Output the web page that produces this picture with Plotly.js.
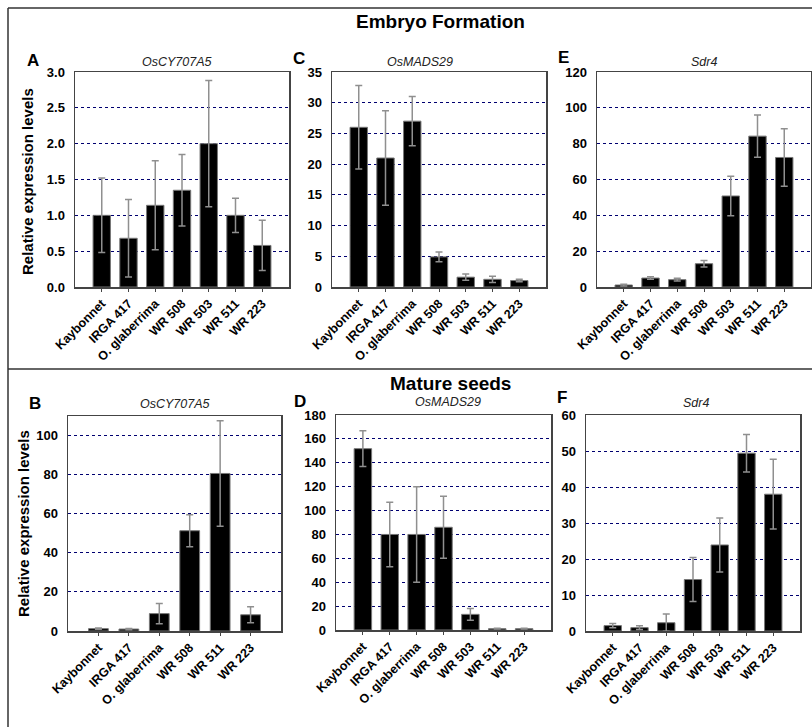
<!DOCTYPE html>
<html>
<head>
<meta charset="utf-8">
<script src="https://cdn.plot.ly/plotly-3.0.1.min.js"></script>
<style>html,body{margin:0;padding:0;background:#fff;}#chart{width:812px;height:727px;}</style>
</head>
<body>
<div id="chart"></div>
<script>
// ---- Data ----
const catsSeven = ['Kaybonnet', 'IRGA 417', 'O. glaberrima', 'WR 508', 'WR 503', 'WR 511', 'WR 223'];
const catsSix = ['Kaybonnet', 'IRGA 417', 'O. glaberrima', 'WR 508', 'WR 511', 'WR 223'];

// Embryo formation
const aVals = [1.00, 0.68, 1.14, 1.35, 2.00, 1.00, 0.58];   // OsCY707A5
const aErr  = [0.52, 0.54, 0.62, 0.50, 0.88, 0.24, 0.35];
const cVals = [26.0, 21.0, 27.0, 4.9, 1.6, 1.25, 1.05];     // OsMADS29
const cErr  = [6.8, 7.7, 4.0, 0.8, 0.5, 0.5, 0.2];
const eVals = [1.1, 5.0, 4.1, 13.0, 50.8, 84.2, 72.3];      // Sdr4
const eErr  = [0.5, 0.7, 0.8, 1.8, 11.0, 11.8, 16.0];

// Mature seeds
const bVals = [1.2, 1.0, 8.9, 51.3, 80.6, 8.3];             // OsCY707A5
const bErr  = [0.3, 0.3, 5.2, 8.2, 27.0, 4.1];
const dVals = [151.8, 80, 80, 86, 13.1, 1.1, 1.1];          // OsMADS29
const dErr  = [15, 27, 40, 26, 5, 0.3, 0.3];
const fVals = [1.5, 0.93, 2.3, 14.3, 23.9, 49.4, 38.0];     // Sdr4
const fErr  = [0.6, 0.5, 2.4, 6.1, 7.5, 5.2, 9.7];

const W = 812, H = 727;
const px = v => v / W;
const py = v => 1 - v / H;
const FONT = 'Liberation Sans, Arial, sans-serif';

const panels = [
  {cats: catsSeven, vals: aVals, err: aErr, x0: 75,  x1: 289, y0: 72,  y1: 287, range: [0, 3],   dtick: 0.5, fmt: '.1f'},
  {cats: catsSeven, vals: cVals, err: cErr, x0: 332, x1: 546, y0: 72,  y1: 287, range: [0, 35],  dtick: 5,   fmt: ''},
  {cats: catsSeven, vals: eVals, err: eErr, x0: 597, x1: 811, y0: 72,  y1: 287, range: [0, 120], dtick: 20,  fmt: ''},
  {cats: catsSix,   vals: bVals, err: bErr, x0: 68,  x1: 281, y0: 416, y1: 631, range: [0, 110], dtick: 20,  fmt: ''},
  {cats: catsSeven, vals: dVals, err: dErr, x0: 336, x1: 551, y0: 415, y1: 630, range: [0, 180], dtick: 20,  fmt: ''},
  {cats: catsSeven, vals: fVals, err: fErr, x0: 586, x1: 800, y0: 415, y1: 631, range: [0, 60],  dtick: 10,  fmt: ''}
];

const data = [];
const layout = {
  width: W, height: H,
  margin: {l: 0, r: 0, t: 0, b: 0},
  paper_bgcolor: '#fff', plot_bgcolor: '#fff',
  showlegend: false,
  font: {family: FONT, color: '#000'},
  annotations: [], shapes: []
};

panels.forEach((p, i) => {
  const n = i + 1;
  const xa = 'xaxis' + (n === 1 ? '' : n), ya = 'yaxis' + (n === 1 ? '' : n);
  data.push({
    type: 'bar', x: p.cats, y: p.vals,
    xaxis: 'x' + (n === 1 ? '' : n), yaxis: 'y' + (n === 1 ? '' : n),
    width: 0.65,
    marker: {color: '#000', line: {color: '#777', width: 1}},
    error_y: {type: 'data', array: p.err, visible: true, color: '#8f8f8f', thickness: 1.5, width: 3.5},
    hoverinfo: 'skip'
  });
  layout[xa] = {
    domain: [px(p.x0), px(p.x1)],
    anchor: 'y' + (n === 1 ? '' : n),
    type: 'category',
    range: [-1, p.cats.length],
    tickangle: -45,
    tickfont: {family: FONT, size: 12.5, weight: 'bold', color: '#000'},
    ticks: 'outside', ticklen: 3, tickcolor: '#444', tickwidth: 1,
    showline: true, linecolor: '#444', linewidth: 1.5, mirror: true,
    showgrid: false, zeroline: false, fixedrange: true
  };
  layout[ya] = {
    domain: [py(p.y1), py(p.y0)],
    anchor: 'x' + (n === 1 ? '' : n),
    range: p.range, dtick: p.dtick, tick0: 0,
    tickformat: p.fmt,
    tickfont: {family: FONT, size: 13, weight: 'bold', color: '#000'},
    ticks: 'outside', ticklen: 6, tickcolor: 'rgba(0,0,0,0)',
    showline: true, linecolor: '#444', linewidth: 1.5, mirror: true,
    showgrid: true, gridcolor: '#000070', griddash: 'dot', gridwidth: 1,
    zeroline: false, fixedrange: true
  };
});

// Frame lines
const line = (x0, y0, x1, y1) => ({type: 'line', xref: 'paper', yref: 'paper',
  x0: px(x0), y0: py(y0), x1: px(x1), y1: py(y1), line: {color: '#333', width: 1.5}});
layout.shapes.push(line(8, 8, 812, 8), line(8, 8, 8, 727), line(8, 369, 812, 369));

const ann = (text, x, y, size, opts) => Object.assign({
  text: text, xref: 'paper', yref: 'paper', x: px(x), y: py(y),
  xanchor: 'center', yanchor: 'middle', showarrow: false,
  font: {family: FONT, size: size, color: '#000'}
}, opts || {});

// Section headers
layout.annotations.push(ann('<b>Embryo Formation</b>', 440, 21, 19));
layout.annotations.push(ann('<b>Mature seeds</b>', 450, 383, 19));
// Panel letters
[['A', 33, 60], ['C', 299, 59], ['E', 563, 58], ['B', 35, 403], ['D', 300, 401], ['F', 562, 397]]
  .forEach(l => layout.annotations.push(ann('<b>' + l[0] + '</b>', l[1], l[2], 17)));
// Gene subtitles
[['OsCY707A5', 177, 62], ['OsMADS29', 420, 62], ['Sdr4', 704, 62],
 ['OsCY707A5', 175, 404], ['OsMADS29', 448, 402], ['Sdr4', 696, 403]]
  .forEach(l => layout.annotations.push(ann('<i>' + l[0] + '</i>', l[1], l[2], 12.5, {font: {family: FONT, size: 12.5, color: '#222'}})));
// Y axis titles
layout.annotations.push(ann('<b>Relative expression levels</b>', 27, 182, 15, {textangle: -90}));
layout.annotations.push(ann('<b>Relative expression levels</b>', 23, 524, 15, {textangle: -90}));

Plotly.newPlot('chart', data, layout, {staticPlot: true, displayModeBar: false});
</script>
</body>
</html>
